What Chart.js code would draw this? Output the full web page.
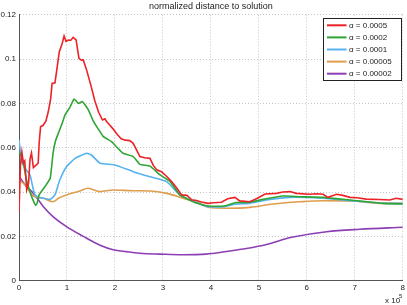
<!DOCTYPE html>
<html>
<head>
<meta charset="utf-8">
<script src="https://cdn.jsdelivr.net/npm/chart.js@4/dist/chart.umd.min.js"></script>
<style>
html,body{margin:0;padding:0;background:#fff;}
#wrap{width:407px;height:305px;}
</style>
</head>
<body>
<div id="wrap"><canvas id="c" width="407" height="305"></canvas></div>
<script>
// x values in units of 1e5 iterations
const titleText = "normalized distance to solution";
const seriesLabels = ["\u03b1 = 0.0005", "\u03b1 = 0.0002", "\u03b1 = 0.0001", "\u03b1 = 0.00005", "\u03b1 = 0.00002"];
const xTicks = [0,1,2,3,4,5,6,7,8];
const yTicks = [0,0.02,0.04,0.06,0.08,0.1,0.12];

const xRed = [0,0.03,0.06,0.09,0.12,0.16,0.2,0.23,0.26,0.3,0.35,0.4,0.42,0.45,0.5,0.56,0.61,0.66,0.69,0.75,0.8,0.84,0.9,0.94,0.98,1.03,1.08,1.13,1.19,1.25,1.3,1.34,1.41,1.5,1.58,1.66,1.74,1.79,1.83,1.9,1.96,2.05,2.13,2.22,2.31,2.38,2.45,2.52,2.62,2.73,2.8,2.87,2.97,3.08,3.18,3.28,3.39,3.5,3.6,3.7,3.8,3.94,4.05,4.22,4.35,4.5,4.6,4.81,4.95,5.13,5.37,5.5,5.65,5.78,6.06,6.2,6.34,6.44,6.62,6.75,6.9,7.05,7.24,7.5,7.73,7.86,8.0];
const yRed = [0.031,0.052,0.058,0.053,0.054,0.041,0.044,0.055,0.0576,0.051,0.052,0.053,0.062,0.0695,0.070,0.072,0.0762,0.082,0.089,0.0893,0.097,0.1033,0.107,0.1104,0.108,0.1086,0.1085,0.1098,0.1086,0.1003,0.0995,0.0996,0.095,0.088,0.0812,0.076,0.0725,0.073,0.0717,0.070,0.0685,0.066,0.064,0.0634,0.0632,0.062,0.059,0.056,0.0555,0.0552,0.052,0.050,0.0492,0.047,0.0447,0.042,0.0387,0.0385,0.0365,0.0362,0.0355,0.0349,0.0352,0.0354,0.037,0.0376,0.036,0.0356,0.037,0.0391,0.0394,0.040,0.0402,0.0394,0.039,0.0392,0.039,0.0376,0.039,0.0385,0.0376,0.0374,0.0368,0.0366,0.0364,0.0372,0.0367];

const xGreen = [0,0.03,0.06,0.1,0.15,0.23,0.3,0.35,0.38,0.42,0.54,0.65,0.71,0.76,0.82,0.9,0.96,1.06,1.15,1.24,1.32,1.44,1.55,1.62,1.76,1.93,2.05,2.17,2.38,2.52,2.73,2.94,3.15,3.35,3.5,3.7,3.94,4.29,4.5,4.81,5.09,5.5,5.85,6.34,6.9,7.59,8];
const yGreen = [0.058,0.057,0.056,0.052,0.046,0.040,0.036,0.034,0.035,0.0387,0.0424,0.0462,0.0575,0.063,0.0665,0.071,0.0748,0.0782,0.082,0.080,0.0808,0.0773,0.072,0.0695,0.065,0.0627,0.060,0.0575,0.056,0.0525,0.0517,0.0477,0.0447,0.0387,0.037,0.035,0.0337,0.0337,0.0352,0.0354,0.0367,0.0382,0.0379,0.0376,0.0364,0.0349,0.0346];

const xBlue = [0,0.03,0.06,0.15,0.23,0.28,0.33,0.42,0.51,0.65,0.75,0.85,0.99,1.17,1.41,1.51,1.69,2.0,2.38,2.73,3.08,3.35,3.77,3.94,4.29,4.5,4.81,5.16,5.65,6.34,6.9,7.59,8];
const yBlue = [0.0635,0.058,0.0537,0.050,0.0477,0.043,0.0387,0.0375,0.0372,0.0367,0.0387,0.0454,0.0514,0.0552,0.0575,0.0567,0.053,0.0522,0.0492,0.0469,0.0447,0.0387,0.0346,0.0334,0.0334,0.0345,0.0349,0.0364,0.0376,0.0372,0.0361,0.0349,0.0349];

const xOrange = [0,0.13,0.3,0.51,0.71,0.82,0.99,1.27,1.44,1.69,1.96,2.38,2.73,3.08,3.42,3.77,3.94,4.33,4.81,5.3,5.85,6.34,6.9,7.59,8];
const yOrange = [0.0454,0.0432,0.0382,0.0372,0.0356,0.0372,0.0387,0.0405,0.0417,0.0402,0.0409,0.0406,0.0405,0.0394,0.0372,0.0349,0.0331,0.0327,0.0331,0.0346,0.0356,0.0361,0.036,0.0349,0.0349];

const xPurple = [0,0.13,0.3,0.51,0.71,0.99,1.34,1.69,1.96,2.24,2.52,2.94,3.42,3.9,4.33,4.74,5.16,5.58,5.71,6.41,7.1,8];
const yPurple = [0.0472,0.0432,0.0394,0.0334,0.0289,0.0244,0.020,0.016,0.0140,0.0131,0.0124,0.012,0.0117,0.012,0.0132,0.0145,0.0163,0.0190,0.0197,0.0221,0.0232,0.0241];

const colors = ['#ec2227','#2fa534','#56b3ef','#df9d4e','#8c3fb5'];

function pts(xs, ys){ return xs.map((x,i)=>({x:x, y:ys[i]})); }
const seriesX = [xRed,xGreen,xBlue,xOrange,xPurple];
const seriesY = [yRed,yGreen,yBlue,yOrange,yPurple];

const datasets = seriesLabels.map((lab,i)=>({
  label: lab,
  data: pts(seriesX[i], seriesY[i]),
  borderColor: colors[i],
  backgroundColor: colors[i],
  borderWidth: 1.6,
  pointRadius: 0,
  tension: i>=3 ? 0.35 : (i===0 ? 0 : 0.15),
  cubicInterpolationMode: i>=3 ? 'monotone' : 'default',
  fill: false
}));

const FONT = '"Liberation Sans", Arial, Helvetica, sans-serif';

const decor = {
  id: 'decor',
  afterDraw(chart){
    const ctx = chart.ctx;
    const ca = chart.chartArea;
    ctx.save();
    // title
    ctx.fillStyle = '#222';
    ctx.font = '9px ' + FONT;
    ctx.textAlign = 'center';
    ctx.textBaseline = 'alphabetic';
    ctx.fillText(titleText, (ca.left+ca.right)/2, 8.5);
    // exponent label
    ctx.textAlign = 'left';
    ctx.font = '8px ' + FONT;
    ctx.fillText('x 10', 385, 303);
    ctx.font = '6px ' + FONT;
    ctx.fillText('5', 399, 298);
    // legend
    const lx = 323.5, ly = 18.5, lw = 78, lh = 62;
    ctx.fillStyle = '#fff';
    ctx.fillRect(lx, ly, lw, lh);
    ctx.strokeStyle = '#222';
    ctx.lineWidth = 1;
    ctx.strokeRect(lx, ly, lw, lh);
    ctx.font = '8px ' + FONT;
    ctx.textBaseline = 'middle';
    chart.data.datasets.forEach((ds,i)=>{
      const y = ly + 6.8 + i*12.1;
      ctx.strokeStyle = ds.borderColor;
      ctx.lineWidth = 2;
      ctx.beginPath();
      ctx.moveTo(327, y);
      ctx.lineTo(346.5, y);
      ctx.stroke();
      ctx.fillStyle = '#222';
      ctx.fillText(ds.label, 349, y+0.5);
    });
    ctx.restore();
  }
};

new Chart(document.getElementById('c'), {
  type: 'line',
  data: { datasets: datasets },
  options: {
    responsive: false,
    animation: false,
    layout: { padding: { top: 14.7, right: 4, left: 0, bottom: 0 } },
    plugins: { legend: { display: false }, title: { display: false }, tooltip: { enabled: false } },
    scales: {
      x: {
        type: 'linear',
        min: 0, max: 8,
        afterBuildTicks(s){ s.ticks = xTicks.map(v=>({value:v})); },
        afterFit(s){ s.height = 24.3; },
        ticks: { padding: 2, color: '#222', font: { size: 8, family: FONT }, maxRotation: 0,
                 callback: v => String(v) },
        grid: { color: '#c4c4c4', lineWidth: 1, drawTicks: false },
        border: { display: true, color: '#555', width: 1, dash: [1,2] }
      },
      y: {
        type: 'linear',
        min: 0, max: 0.12,
        afterBuildTicks(s){ s.ticks = yTicks.map(v=>({value:v})); },
        afterFit(s){ s.width = 19; },
        ticks: { padding: 3, color: '#222', font: { size: 8, family: FONT },
                 callback: v => String(Math.round(v*100)/100) },
        grid: { color: '#c4c4c4', lineWidth: 1, drawTicks: false },
        border: { display: true, color: '#555', width: 1, dash: [1,2] }
      }
    }
  },
  plugins: [decor]
});
</script>
</body>
</html>
